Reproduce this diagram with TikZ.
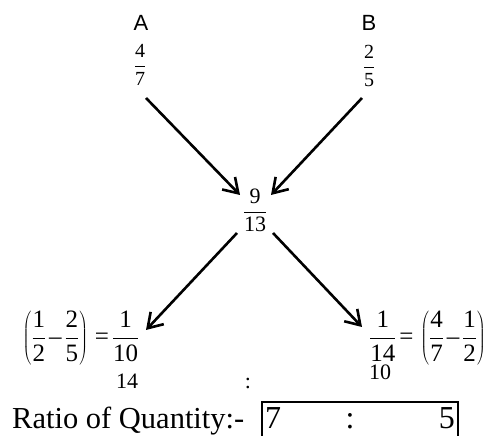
\documentclass[tikz,border=0pt]{standalone}
\usepackage{fontspec}
\setmainfont{Liberation Serif}
\newfontfamily\arialf{Liberation Sans}
\usetikzlibrary{arrows.meta}
\newcommand\fr[2]{\displaystyle\frac{\mbox{#1}}{\mbox{#2}}}
\newcommand\mi{\mkern2mu\mbox{–}\mkern2mu}
\newcommand\eq{\mkern2mu\mbox{=}\mkern2mu}
\tikzset{
  arr/.style={line width=2.6pt, -{Straight Barb[length=14pt,width=18pt,line width=2.6pt]}},
  lbl/.style={inner sep=0pt, font=\arialf\fontsize{22}{25}\selectfont},
  frs/.style={inner sep=0pt, font=\fontsize{20}{23}\selectfont},
  frm/.style={inner sep=0pt, font=\fontsize{22}{25}\selectfont},
  frl/.style={inner sep=0pt, font=\fontsize{25}{28}\selectfont},
  num/.style={inner sep=0pt, font=\fontsize{22}{25}\selectfont},
  big/.style={inner sep=0pt, font=\fontsize{30.5}{34}\selectfont},
  bigd/.style={inner sep=0pt, font=\fontsize{32}{36}\selectfont},
  boxline/.style={line width=1.8pt}
}
\begin{document}
\begin{tikzpicture}[x=1pt,y=1pt]
\useasboundingbox (0,0) rectangle (490,436);
% labels
\node[lbl] (A) at (141,413.5) {A};
\node[lbl] (B) at (369,413) {B};
\node[frs] (fA) at (140,371) {$\fr{4}{7}$};
\node[frs] (fB) at (369,370) {$\fr{2}{5}$};
\node[frm] (fC) at (255,226) {$\fr{9}{13}$};
\node[frl] (fL) at (81,98) {$\displaystyle\left(\frac{\mbox{1}}{\mbox{2}}\mi\frac{\mbox{2}}{\mbox{5}}\right)\eq\frac{\mbox{1}}{\mbox{10}}$};
\node[frl] (fR) at (427.5,98) {$\displaystyle\frac{\mbox{1}}{\mbox{14}}\eq\left(\frac{\mbox{4}}{\mbox{7}}\mi\frac{\mbox{1}}{\mbox{2}}\right)$};
\node[num] (n14) at (127,55) {14};
\node[num] (n10) at (380,64) {10};
\node[num] (col) at (248,53) {:};
% arrow ends
\coordinate (s1) at (146,338);
\coordinate (e1) at (240,241);
\coordinate (s2) at (362,338);
\coordinate (e2) at (271,241);
\coordinate (s3) at (237,203);
\coordinate (e3) at (146,106);
\coordinate (s4) at (273,203);
\coordinate (e4) at (362,109);
\draw[arr] (s1) -- (e1);
\draw[arr] (s2) -- (e2);
\draw[arr] (s3) -- (e3);
\draw[arr] (s4) -- (e4);
% bottom line
\node[big, anchor=base west] (ratio) at (12,7) {Ratio of Quantity:-};
\coordinate (bl) at (262,-2);
\coordinate (tl) at (262,34);
\coordinate (tr) at (458,34);
\coordinate (br) at (458,-2);
\draw[boxline] (bl) -- (tl) -- (tr) -- (br);
\node[bigd, anchor=base west] (r7) at (265,7) {7};
\node[bigd, anchor=base] (rc) at (350,7) {:};
\node[bigd, anchor=base east] (r5) at (455,7) {5};
\end{tikzpicture}
\end{document}
